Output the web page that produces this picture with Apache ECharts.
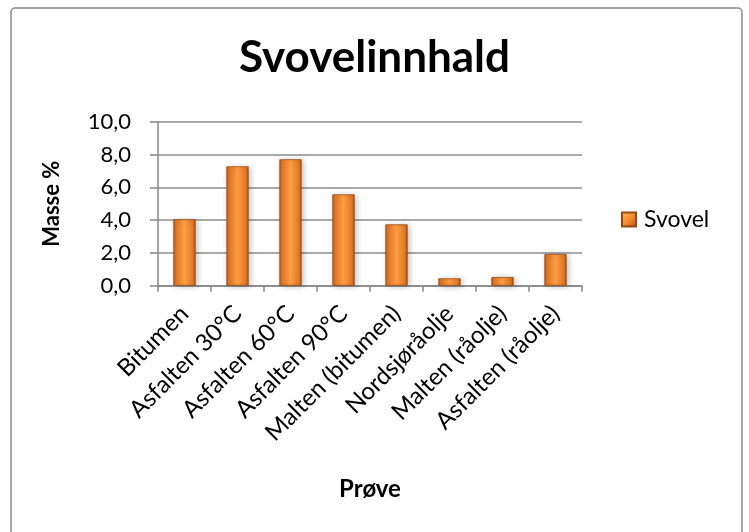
<!DOCTYPE html>
<html>
<head>
<meta charset="utf-8">
<script src="https://cdn.jsdelivr.net/npm/echarts@6/dist/echarts.min.js"></script>
<style>
html,body{margin:0;padding:0;background:#fff;}
#chart{width:749px;height:532px;}
</style>
</head>
<body>
<div id="chart"></div>
<script>
var categories = ['Bitumen','Asfalten 30°C','Asfalten 60°C','Asfalten 90°C','Malten (bitumen)','Nordsjøråolje','Malten (råolje)','Asfalten (råolje)'];
var svovel = [4.05, 7.28, 7.71, 5.57, 3.74, 0.45, 0.53, 1.93];
var yTicks = [0, 2, 4, 6, 8, 10];

var FONT = 'Lato';
var chart = echarts.init(document.getElementById('chart'), null, {renderer:'canvas'});
var barGrad = new echarts.graphic.LinearGradient(0,0,1,0,[
  {offset:0, color:'#b95a17'},
  {offset:0.12, color:'#e07a2a'},
  {offset:0.5, color:'#ff9d40'},
  {offset:0.88, color:'#e07a2a'},
  {offset:1, color:'#a94f12'}
]);
var iconGrad = new echarts.graphic.LinearGradient(0,0,1,1,[
  {offset:0, color:'#ffc16a'},
  {offset:0.5, color:'#f38b2c'},
  {offset:1, color:'#b4571a'}
]);
chart.setOption({
  animation:false,
  backgroundColor:'#fff',
  textStyle:{fontFamily:FONT},
  graphic:[{
    type:'rect', shape:{x:11, y:8, width:731, height:540, r:4},
    style:{fill:'none', stroke:'#8a8a8a', lineWidth:1.5}, silent:true, z:-1
  }],
  title:{
    text:'Svovelinnhald', left:'center', top:31,
    textStyle:{fontFamily:FONT, fontSize:44, fontWeight:'bold', color:'#000'}
  },
  legend:{
    left:616, top:203, itemWidth:14, itemHeight:14, icon:'rect',
    textStyle:{fontFamily:FONT, fontSize:23, color:'#000', padding:[0,0,0,3]},
    data:[{name:'Svovel', itemStyle:{color:iconGrad}}]
  },
  grid:{left:158, right:167, top:121.7, bottom:246.3, containLabel:false},
  xAxis:{
    type:'category', data:categories,
    name:'Prøve', nameLocation:'middle', nameGap:192,
    nameTextStyle:{fontFamily:FONT, fontSize:24, fontWeight:'bold', color:'#000'},
    axisLine:{lineStyle:{color:'#868686', width:1.5}},
    axisTick:{show:true, length:6, lineStyle:{color:'#868686', width:1.5}},
    axisLabel:{rotate:45, interval:0, margin:24, fontFamily:FONT, fontSize:24, color:'#000'}
  },
  yAxis:{
    type:'value', min:0, max:10, interval:2,
    name:'Masse %', nameLocation:'middle', nameGap:95, nameRotate:90,
    nameTextStyle:{fontFamily:FONT, fontSize:22, fontWeight:'bold', color:'#000'},
    axisLine:{show:true, lineStyle:{color:'#868686', width:1.5}},
    axisTick:{show:true, inside:false, length:8, lineStyle:{color:'#868686', width:1.5}},
    splitLine:{show:true, lineStyle:{color:'#8c8c8c', width:1.5}},
    axisLabel:{margin:27, fontFamily:FONT, fontSize:22, color:'#000',
      formatter:function(v){ return yTicks.indexOf(v) >= 0 ? v.toFixed(1).replace('.', ',') : ''; }}
  },
  series:[{
    name:'Svovel', type:'bar', data:svovel, barWidth:'42%',
    itemStyle:{color:barGrad, borderColor:'#9a4a10', borderWidth:0.8,
      shadowColor:'rgba(0,0,0,0.25)', shadowBlur:6, shadowOffsetX:2, shadowOffsetY:1}
  }]
});
</script>
</body>
</html>
